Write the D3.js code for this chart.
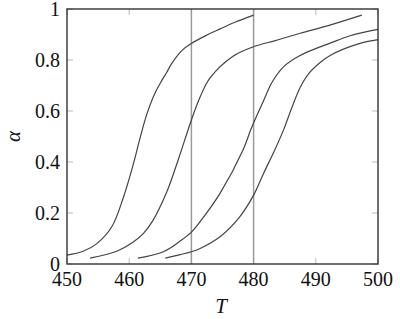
<!DOCTYPE html>
<html>
<head>
<meta charset="utf-8">
<script src="https://cdn.jsdelivr.net/npm/d3@7"></script>
<style>
  body { margin: 0; background: #fff; }
  svg text { font-family: "Liberation Serif", "DejaVu Serif", "Times New Roman", Times, serif; }
</style>
</head>
<body>
<div id="chart"></div>
<script>
// temperature / conversion readings, one pair of arrays per curve
const t1 = [450, 452.6, 454.8, 457.2, 459.1, 460.7, 461.7, 462.8, 464.1, 465.2, 466, 466.8, 468.5, 470, 472.5, 474.6, 477, 480];
const a1 = [0.035, 0.05, 0.08, 0.146, 0.264, 0.395, 0.49, 0.585, 0.668, 0.718, 0.75, 0.785, 0.838, 0.865, 0.898, 0.922, 0.948, 0.976];

const t2 = [453.7, 458, 460.6, 462.3, 463.8, 466, 467.9, 470, 471.4, 473, 476.7, 480, 483.5, 487.5, 492, 497.4];
const a2 = [0.023, 0.05, 0.085, 0.12, 0.17, 0.28, 0.41, 0.565, 0.655, 0.73, 0.815, 0.852, 0.876, 0.905, 0.935, 0.976];

const t3 = [461.4, 465.4, 468.2, 470, 471.4, 474.6, 478.3, 479.6, 481.6, 482.9, 484.8, 486.9, 488.5, 492.3, 495.5, 500];
const a3 = [0.023, 0.047, 0.09, 0.125, 0.166, 0.277, 0.447, 0.53, 0.64, 0.71, 0.773, 0.81, 0.83, 0.866, 0.895, 0.92];

const t4 = [465.8, 468.2, 470, 471.4, 474.6, 477.8, 480, 481.6, 483.4, 484.8, 486.1, 487.5, 488.8, 490.7, 492.3, 497.1, 500];
const a4 = [0.023, 0.037, 0.048, 0.061, 0.107, 0.186, 0.27, 0.355, 0.447, 0.525, 0.61, 0.693, 0.745, 0.79, 0.818, 0.865, 0.88];

const xTicks = [450, 460, 470, 480, 490, 500];
const yTicks = [0, 0.2, 0.4, 0.6, 0.8, 1];
const markers = [470, 480]; // vertical reference lines

const width = 400,
      height = 319,
      margin = ({ top: 9, right: 22, bottom: 55, left: 67 });

let svg = d3.select("#chart")
    .append("svg")
    .attr("width", width)
    .attr("height", height);

let x = d3.scaleLinear()
    .domain([450, 500])
    .range([margin.left, width - margin.right]);

let y = d3.scaleLinear()
    .domain([0, 1])
    .range([height - margin.bottom, margin.top]);

const tickLen = 6;

// inward ticks on all four sides
let ticks = svg.append("g").attr("stroke", "#bbb").attr("stroke-width", 1);
ticks.selectAll(".xb").data(xTicks).join("line")
    .attr("x1", d => x(d)).attr("x2", d => x(d))
    .attr("y1", y(0)).attr("y2", y(0) - tickLen);
ticks.selectAll(".xt").data(xTicks).join("line")
    .attr("x1", d => x(d)).attr("x2", d => x(d))
    .attr("y1", y(1)).attr("y2", y(1) + tickLen);
ticks.selectAll(".yl").data(yTicks).join("line")
    .attr("x1", x(450)).attr("x2", x(450) + tickLen)
    .attr("y1", d => y(d)).attr("y2", d => y(d));
ticks.selectAll(".yr").data(yTicks).join("line")
    .attr("x1", x(500)).attr("x2", x(500) - tickLen)
    .attr("y1", d => y(d)).attr("y2", d => y(d));

// vertical lines at 470 and 480
svg.append("g").selectAll("line")
    .data(markers)
    .join("line")
    .attr("x1", d => x(d)).attr("x2", d => x(d))
    .attr("y1", y(0)).attr("y2", y(1))
    .attr("stroke", "#9a9a9a")
    .attr("stroke-width", 1.5);

let line = d3.line()
    .x(d => x(d[0]))
    .y(d => y(d[1]))
    .curve(d3.curveCatmullRom.alpha(0.5));

const curves = [[t1, a1], [t2, a2], [t3, a3], [t4, a4]];

svg.append("g").selectAll("path")
    .data(curves.map(c => d3.zip(c[0], c[1])))
    .join("path")
    .attr("d", line)
    .attr("fill", "none")
    .attr("stroke", "#444")
    .attr("stroke-width", 1.2);

// frame
svg.append("rect")
    .attr("x", x(450)).attr("y", y(1))
    .attr("width", x(500) - x(450))
    .attr("height", y(0) - y(1))
    .attr("fill", "none")
    .attr("stroke", "#333")
    .attr("stroke-width", 1.4);

// tick labels
svg.append("g").selectAll("text")
    .data(xTicks)
    .join("text")
    .attr("x", d => x(d))
    .attr("y", y(0) + 22)
    .attr("text-anchor", "middle")
    .attr("font-size", 20)
    .attr("fill", "#111")
    .text(d => d);

svg.append("g").selectAll("text")
    .data(yTicks)
    .join("text")
    .attr("x", x(450) - 7)
    .attr("y", d => y(d) + 7)
    .attr("text-anchor", "end")
    .attr("font-size", 20)
    .attr("fill", "#111")
    .text(d => d);

// axis titles
svg.append("text")
    .attr("x", 221)
    .attr("y", height - 6)
    .attr("text-anchor", "middle")
    .attr("font-size", 21)
    .attr("font-style", "italic")
    .attr("fill", "#111")
    .text("T");

svg.append("text")
    .attr("transform", `translate(20,${y(0.5)}) rotate(-90)`)
    .attr("text-anchor", "middle")
    .attr("font-size", 21)
    .attr("font-style", "italic")
    .attr("fill", "#111")
    .text("α");
</script>
</body>
</html>
